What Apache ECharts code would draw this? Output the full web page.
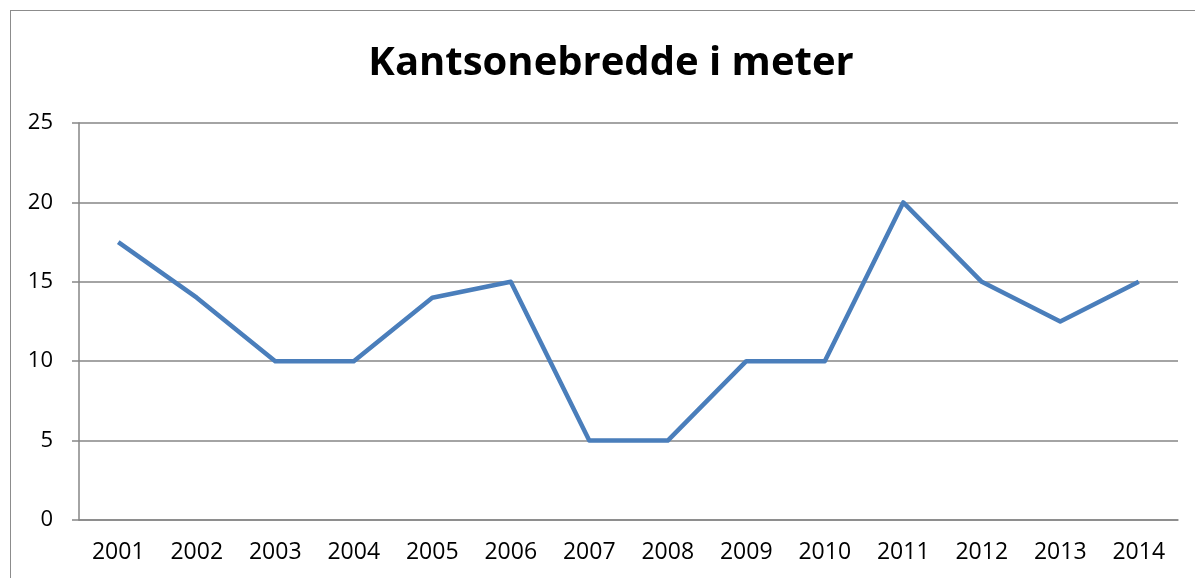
<!DOCTYPE html>
<html>
<head>
    <meta charset="utf-8">
    <title>Kantsonebredde i meter</title>
    <script src="https://cdn.jsdelivr.net/npm/echarts@6/dist/echarts.min.js"></script>
    <style>
        html, body { margin: 0; padding: 0; background: #fff; overflow: hidden; }
        #frame { position: absolute; left: 10px; top: 10px; width: 1300px; height: 700px;
                 border: 1.5px solid #8c8c8c; box-sizing: border-box; }
        #chart { position: absolute; left: 0; top: 0; width: 1195px; height: 578px; }
    </style>
</head>
<body>
<div id="frame"></div>
<div id="chart"></div>
<script type="text/javascript">
    // data
    var years = ['2001', '2002', '2003', '2004', '2005', '2006', '2007',
                 '2008', '2009', '2010', '2011', '2012', '2013', '2014'];
    var widths = [17.5, 14, 10, 10, 14, 15, 5, 5, 10, 10, 20, 15, 12.5, 15];

    var myChart = echarts.init(document.getElementById('chart'), null, { renderer: 'canvas' });

    myChart.setOption({
        animation: false,
        textStyle: { fontFamily: 'Open Sans' },
        title: {
            text: 'Kantsonebredde i meter',
            left: 606,
            top: 39,
            textAlign: 'center',
            textStyle: { fontFamily: 'Open Sans', fontSize: 40, fontWeight: 'bold', color: '#000' }
        },
        grid: { left: 79, right: 17, top: 123, bottom: 58, containLabel: false },
        xAxis: {
            type: 'category',
            data: years,
            boundaryGap: true,
            axisLine: { lineStyle: { color: '#868686', width: 1.5 } },
            axisTick: { alignWithLabel: false, length: 8, lineStyle: { color: '#868686', width: 1.5 } },
            axisLabel: { color: '#000', fontSize: 23, margin: 21 }
        },
        yAxis: {
            type: 'value',
            min: 0,
            max: 25,
            interval: 5,
            axisLine: { show: true, lineStyle: { color: '#868686', width: 1.5 } },
            axisTick: { show: true, length: 7, lineStyle: { color: '#868686', width: 1.5 } },
            axisLabel: { color: '#000', fontSize: 22, margin: 26 },
            splitLine: { lineStyle: { color: '#868686', width: 1.5 } }
        },
        series: [{
            name: 'Kantsonebredde',
            type: 'line',
            data: widths,
            symbol: 'none',
            lineStyle: { color: '#4a7ebb', width: 4.5, join: 'round' }
        }]
    });
</script>
</body>
</html>
